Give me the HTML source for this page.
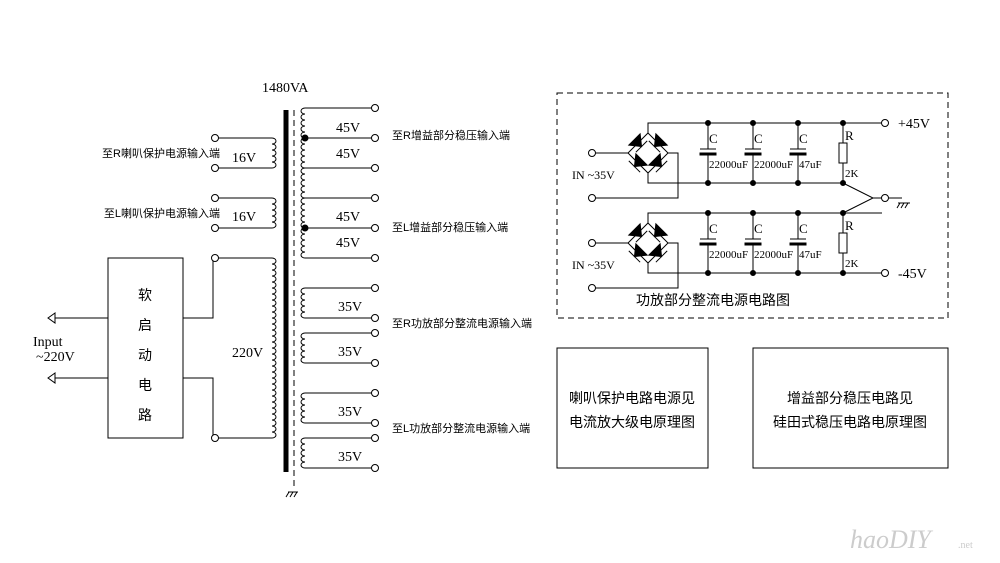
<!DOCTYPE html>
<html><head><meta charset="utf-8"><style>
body{margin:0;background:#fff}
svg{display:block}
text{font-family:"Liberation Serif","Noto Sans CJK SC",serif;fill:#000}
.c{font-family:"Liberation Sans","Noto Sans CJK SC",sans-serif;font-size:11px}
.cb{font-family:"Liberation Sans","Noto Sans CJK SC",sans-serif;font-size:14px}
.v{font-size:14px}
.s{font-size:12px}
</style></head><body>
<svg id="s" width="1000" height="563" viewBox="0 0 1000 563" xmlns="http://www.w3.org/2000/svg" stroke="#000" fill="none" stroke-width="1">
<line x1="286" y1="110" x2="286" y2="472" stroke-width="5"/>
<line x1="294" y1="110" x2="294" y2="490" stroke-dasharray="6,4"/>
<path d="M288 492 h10 M289 492 l-3 5 M293 492 l-3 5 M297 492 l-3 5"/>
<rect x="108" y="258" width="75" height="180"/>
<path d="M48 318 H108 M48 378 H108"/>
<path d="M55 313 L48 318 L55 323 Z M55 373 L48 378 L55 383 Z" fill="#fff"/>
<path d="M183 318 H213 V258 M183 378 H213 V438"/>
<path d="M218 258 H272 M218 438 H272"/>
<path d="M218 138 H272 M218 168 H272 M218 198 H272 M218 228 H272"/>
<path d="M305 108 H372 M305 138 H372 M305 168 H372 M305 198 H372 M305 228 H372 M305 258 H372"/>
<path d="M305 288 H372 M305 318 H372 M305 333 H372 M305 363 H372 M305 393 H372 M305 423 H372 M305 438 H372 M305 468 H372"/>
<g id="coils"></g>
<g fill="#000"><circle cx="305" cy="138" r="3"/><circle cx="305" cy="228" r="3"/></g>
<g id="term" fill="#fff"></g>
<rect x="557" y="93" width="391" height="225" stroke-dasharray="6,4"/>
<g id="rect"></g>
<rect x="557" y="348" width="151" height="120"/>
<rect x="753" y="348" width="195" height="120"/>
<g stroke="none">
<text x="262" y="92" class="v">1480VA</text>
<text x="336" y="132" class="v">45V</text><text x="336" y="158" class="v">45V</text>
<text x="336" y="221" class="v">45V</text><text x="336" y="247" class="v">45V</text>
<text x="232" y="162" class="v">16V</text><text x="232" y="221" class="v">16V</text>
<text x="232" y="357" class="v">220V</text>
<text x="338" y="311" class="v">35V</text><text x="338" y="356" class="v">35V</text>
<text x="338" y="416" class="v">35V</text><text x="338" y="461" class="v">35V</text>
<text x="33" y="346" class="v">Input</text><text x="36" y="361" class="v">~220V</text>
<text x="138" y="300" class="cb">软</text><text x="138" y="330" class="cb">启</text>
<text x="138" y="360" class="cb">动</text><text x="138" y="390" class="cb">电</text>
<text x="138" y="420" class="cb">路</text>
<text x="392" y="139" class="c">至R增益部分稳压输入端</text>
<text x="392" y="231" class="c">至L增益部分稳压输入端</text>
<text x="392" y="327" class="c">至R功放部分整流电源输入端</text>
<text x="392" y="432" class="c">至L功放部分整流电源输入端</text>
<text x="220" y="157" class="c" text-anchor="end">至R喇叭保护电源输入端</text>
<text x="220" y="217" class="c" text-anchor="end">至L喇叭保护电源输入端</text>
<text x="713" y="305" class="cb" text-anchor="middle">功放部分整流电源电路图</text>
<text x="632" y="403" class="cb" text-anchor="middle">喇叭保护电路电源见</text>
<text x="632" y="427" class="cb" text-anchor="middle">电流放大级电原理图</text>
<text x="850" y="403" class="cb" text-anchor="middle">增益部分稳压电路见</text>
<text x="850" y="427" class="cb" text-anchor="middle">硅田式稳压电路电原理图</text>
<text x="898" y="128" class="v">+45V</text><text x="898" y="278" class="v">-45V</text>
<text x="572" y="179" class="s">IN ~35V</text><text x="572" y="269" class="s">IN ~35V</text>
<text x="850" y="548" style="font-size:26px;fill:#ccc;font-style:italic">haoDIY</text>
<text x="958" y="548" style="font-size:10px;fill:#ccc">.net</text>
</g>
</svg>
<script>
const NS="http://www.w3.org/2000/svg";
function el(p,tag,a){const e=document.createElementNS(NS,tag);for(const k in a)e.setAttribute(k,a[k]);document.getElementById(p).appendChild(e);return e;}
function coil(x,y1,y2,dir){const n=Math.round((y2-y1)/6);const h=(y2-y1)/n;let d=`M${x} ${y1}`;for(let i=0;i<n;i++)d+=` a4 ${h/2} 0 0 ${dir} 0 ${h}`;el("coils","path",{d});}
coil(272,138,168,1);coil(272,198,228,1);coil(272,258,438,1);
[[108,258],[288,318],[333,363],[393,423],[438,468]].forEach(([a,b])=>coil(305,a,b,0));
const T=[[215,138],[215,168],[215,198],[215,228],[215,258],[215,438]];
[108,138,168,198,228,258,288,318,333,363,393,423,438,468].forEach(y=>T.push([375,y]));
T.forEach(([x,y])=>el("term","circle",{cx:x,cy:y,r:3.5}));
function stage(yt,yi){const yb=yt+60,cx=648,cy=yt+30,r=20;
 el("rect","path",{d:`M${cx} ${cy-r} V${yt} H882 M${cx} ${cy+r} V${yb} H${yt<150?843:882} M592 ${yi} H${cx-r} M${cx+r} ${cy} H678 V${yi+45} H592`});
 el("rect","path",{d:`M${cx} ${cy-r} L${cx+r} ${cy} L${cx} ${cy+r} L${cx-r} ${cy} Z`});
 [[cx-10,cy-10],[cx+10,cy-10],[cx-10,cy+10],[cx+10,cy+10]].forEach(([x,y])=>{
  el("rect","path",{d:`M${x-8} ${y-5} L${x+8} ${y-5} L${x} ${y+5} Z M${x-8} ${y+5} H${x+8}`,fill:"#000",transform:`rotate(${x<cx?(y<cy?-45:45):(y<cy?45:-45)} ${x} ${y})`});});
 [708,753,798].forEach((x,i)=>{el("rect","path",{d:`M${x} ${yt} V${cy-4} M${x-8} ${cy-4} H${x+8} M${x} ${cy+1} V${yb}`});
  el("rect","rect",{x:x-8,y:cy,width:16,height:2,fill:"#000"});
  el("rect","text",{x:x+1,y:yt+20,stroke:"none",fill:"#000","font-size":"13"}).textContent="C";
  el("rect","text",{x:x+1,y:yt+45,stroke:"none",fill:"#000","font-size":"11"}).textContent=i<2?"22000uF":"47uF";});
 el("rect","path",{d:`M843 ${yt} V${yt+20} M843 ${yt+40} V${yb}`});
 el("rect","rect",{x:839,y:yt+20,width:8,height:20,fill:"#fff"});
 el("rect","text",{x:845,y:yt+17,stroke:"none",fill:"#000","font-size":"13"}).textContent="R";
 el("rect","text",{x:845,y:yt+54,stroke:"none",fill:"#000","font-size":"11"}).textContent="2K";
 [708,753,798,843].forEach(x=>{el("rect","circle",{cx:x,cy:yt,r:2.5,fill:"#000"});el("rect","circle",{cx:x,cy:yb,r:2.5,fill:"#000"});});
 el("rect","circle",{cx:885,cy:yi===153?123:273,r:3.5,fill:"#fff"});
}
stage(123,153);stage(213,243);
el("rect","path",{d:"M843 183 L873 198 L843 213 M873 198 H882 M889 198 H902 M898 203 h12 M900 203 l-3 5 M904 203 l-3 5 M908 203 l-3 5"});
el("rect","circle",{cx:885,cy:198,r:3.5,fill:"#fff"});
[[592,153],[592,198],[592,243],[592,288]].forEach(([x,y])=>el("rect","circle",{cx:x,cy:y,r:3.5,fill:"#fff"}));
</script>
</body></html>
